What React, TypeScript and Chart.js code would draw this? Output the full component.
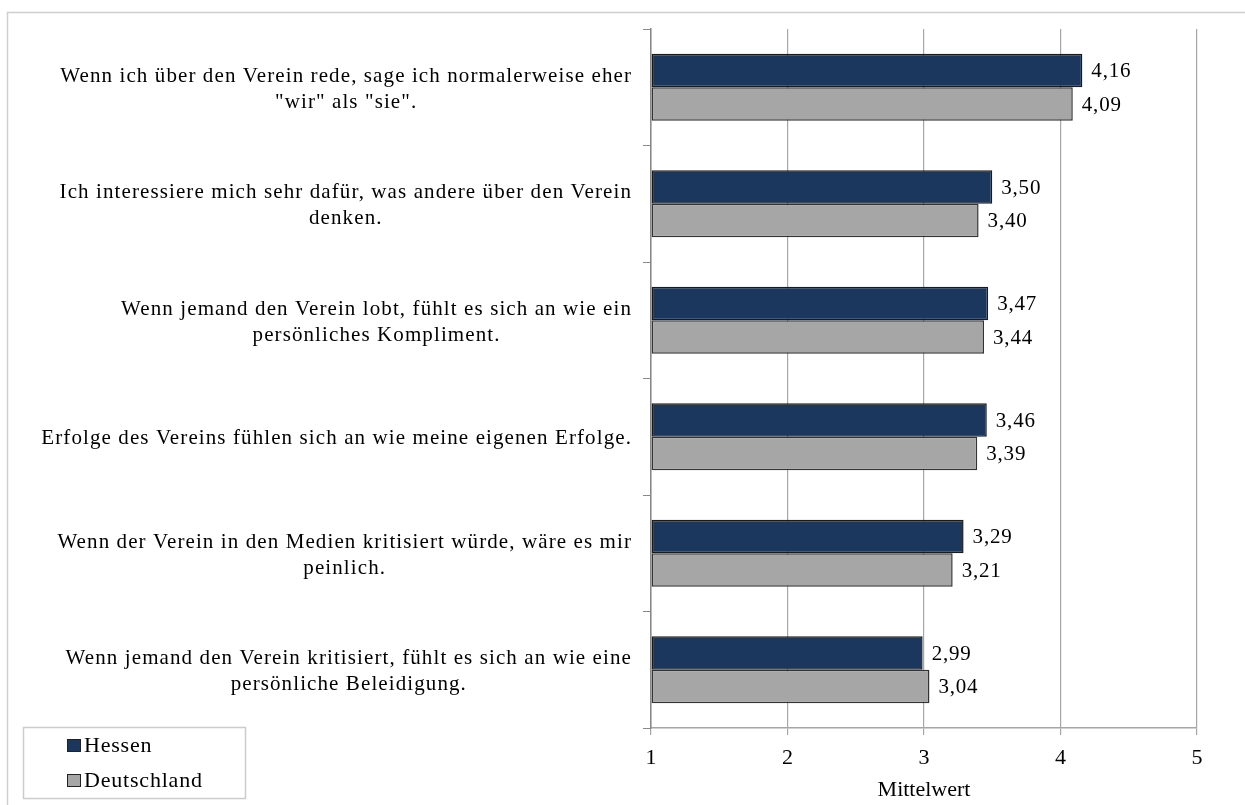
import React, { useEffect, useRef } from "react";
import { Chart, registerables } from "chart.js";

Chart.register(...registerables);

const categories: string[][] = [
  ["Wenn ich über den Verein rede, sage ich normalerweise eher", "\"wir\" als \"sie\"."],
  ["Ich interessiere mich sehr dafür, was andere über den Verein", "denken."],
  ["Wenn jemand den Verein lobt, fühlt es sich an wie ein", "persönliches Kompliment."],
  ["Erfolge des Vereins fühlen sich an wie meine eigenen Erfolge."],
  ["Wenn der Verein in den Medien kritisiert würde, wäre es mir", "peinlich."],
  ["Wenn jemand den Verein kritisiert, fühlt es sich an wie eine", "persönliche Beleidigung."],
];
const hessen: number[] = [4.16, 3.5, 3.47, 3.46, 3.29, 2.99];
const deutschland: number[] = [4.09, 3.4, 3.44, 3.39, 3.21, 3.04];
const seriesNames: string[] = ["Hessen", "Deutschland"];
const xTicks: number[] = [1, 2, 3, 4, 5];
const xTitle = "Mittelwert";

const FONT = "'Liberation Serif', 'Times New Roman', serif";
const NAVY = "#1b375e";
const GRAY = "#a6a6a6";
const GRID = "#a6a6a6";

const framePlugin = {
  id: "frame",
  beforeDraw(chart: any) {
    const ctx = chart.ctx;
    ctx.save();
    ctx.fillStyle = "#ffffff";
    ctx.fillRect(0, 0, chart.width, chart.height);
    ctx.strokeStyle = "#cfcfcf";
    ctx.lineWidth = 1.5;
    ctx.beginPath();
    ctx.moveTo(7.5, chart.height + 5);
    ctx.lineTo(7.5, 12.5);
    ctx.lineTo(chart.width + 5, 12.5);
    ctx.stroke();
    ctx.restore();
  },
};

const yLabelPlugin = {
  id: "yLabels",
  afterDraw(chart: any) {
    const ctx = chart.ctx;
    const yScale = chart.scales.y;
    const labels = chart.data.labels as string[][];
    ctx.save();
    ctx.font = `21px ${FONT}`;
    (ctx as any).letterSpacing = "1.1px";
    ctx.fillStyle = "#000000";
    ctx.textAlign = "center";
    ctx.textBaseline = "middle";
    const right = yScale.right - 19;
    const lh = 26;
    labels.forEach((lines, i) => {
      const cy = yScale.getPixelForTick(i) + 2;
      const maxW = Math.max(...lines.map((l) => ctx.measureText(l).width));
      const cx = right - maxW / 2;
      const startY = cy - ((lines.length - 1) * lh) / 2;
      lines.forEach((l, j) => ctx.fillText(l, cx, startY + j * lh));
    });
    ctx.restore();
  },
};

const valueLabelPlugin = {
  id: "valueLabels",
  afterDatasetsDraw(chart: any) {
    const ctx = chart.ctx;
    ctx.save();
    ctx.font = `21px ${FONT}`;
    (ctx as any).letterSpacing = "0.8px";
    ctx.fillStyle = "#000000";
    ctx.textAlign = "left";
    ctx.textBaseline = "middle";
    chart.data.datasets.forEach((ds: any, di: number) => {
      const meta = chart.getDatasetMeta(di);
      meta.data.forEach((el: any, i: number) => {
        const v = ds.data[i] as number;
        ctx.fillText(v.toFixed(2).replace(".", ","), el.x + 9, el.y + 1);
      });
    });
    ctx.restore();
  },
};

const legendPlugin = {
  id: "boxLegend",
  afterDraw(chart: any) {
    const ctx = chart.ctx;
    ctx.save();
    ctx.strokeStyle = "#cccccc";
    ctx.lineWidth = 1.5;
    ctx.strokeRect(23.5, 727.5, 222, 71);
    ctx.font = `22px ${FONT}`;
    (ctx as any).letterSpacing = "0.8px";
    ctx.textAlign = "left";
    ctx.textBaseline = "middle";
    chart.data.datasets.forEach((ds: any, i: number) => {
      const y = 739 + i * 35;
      ctx.fillStyle = ds.backgroundColor;
      ctx.fillRect(67, y, 14, 13);
      ctx.strokeStyle = "#222222";
      ctx.lineWidth = 1;
      ctx.strokeRect(67.5, y + 0.5, 13, 12);
      ctx.fillStyle = "#000000";
      ctx.fillText(ds.label, 84, y + 7.5);
    });
    ctx.restore();
  },
};

export default function App() {
  const ref = useRef<HTMLCanvasElement | null>(null);
  useEffect(() => {
    if (!ref.current) return;
    Chart.defaults.font.family = FONT;
    const chart = new Chart(ref.current, {
      type: "bar",
      data: {
        labels: categories as any,
        datasets: [
          {
            label: seriesNames[0],
            data: hessen,
            backgroundColor: NAVY,
            borderColor: "#1a1a1a",
            borderWidth: 1.5,
            borderSkipped: false,
            base: 1,
            categoryPercentage: 0.575,
            barPercentage: 1,
          },
          {
            label: seriesNames[1],
            data: deutschland,
            backgroundColor: GRAY,
            borderColor: "#333333",
            borderWidth: 1.5,
            borderSkipped: false,
            base: 1,
            categoryPercentage: 0.575,
            barPercentage: 1,
          },
        ],
      },
      options: {
        indexAxis: "y",
        responsive: false,
        animation: false,
        layout: { padding: { top: 29, right: 48, left: 0, bottom: 0 } },
        plugins: {
          legend: { display: false },
          tooltip: { enabled: false },
        },
        scales: {
          x: {
            type: "linear",
            min: xTicks[0],
            max: xTicks[xTicks.length - 1],
            afterBuildTicks: (scale: any) => {
              scale.ticks = xTicks.map((v) => ({ value: v }));
            },
            afterFit: (scale: any) => {
              scale.height = 77;
            },
            grid: { color: GRID, lineWidth: 1.2, tickLength: 7, drawOnChartArea: true },
            border: { color: GRID, width: 1.5 },
            ticks: {
              color: "#000000",
              font: { size: 22, family: FONT },
              padding: 10,
              maxRotation: 0,
            },
            title: {
              display: true,
              text: xTitle,
              color: "#000000",
              font: { size: 22, family: FONT },
              padding: { top: 0, bottom: 2 },
            },
          },
          y: {
            type: "category",
            afterFit: (scale: any) => {
              scale.width = 651;
            },
            grid: { color: "#888888", drawOnChartArea: false, tickLength: 8, offset: true },
            border: { color: "#888888", width: 1.5 },
            ticks: { color: "rgba(0,0,0,0)", font: { size: 20 } },
          },
        },
      },
      plugins: [framePlugin, yLabelPlugin, valueLabelPlugin, legendPlugin],
    } as any);
    return () => chart.destroy();
  }, []);
  return (
    <div style={{ position: "absolute", left: 0, top: 0, width: 1245, height: 805 }}>
      <canvas ref={ref} width={1245} height={805} style={{ display: "block" }} />
    </div>
  );
}
